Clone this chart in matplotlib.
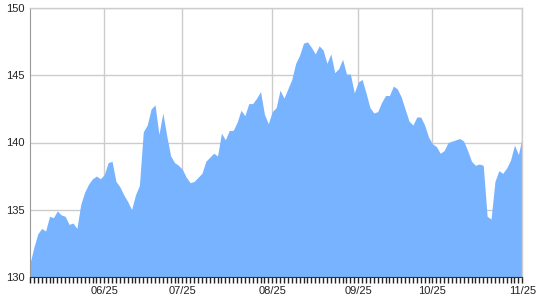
import matplotlib
matplotlib.use("Agg")
import matplotlib.pyplot as plt
import numpy as np

# Daily closing values (trading-day index)
values = [
    131.0, 132.2, 133.2, 133.6, 133.4, 134.5, 134.4, 134.9, 134.6, 134.5,
    133.9, 134.0, 133.6, 135.4, 136.3, 136.9, 137.3, 137.5, 137.3, 137.6,
    138.5, 138.6, 137.1, 136.7, 136.1, 135.6, 135.0, 136.1, 136.8, 140.8,
    141.3, 142.5, 142.8, 140.6, 142.2, 140.5, 139.0, 138.5, 138.3, 138.0,
    137.4, 137.0, 137.1, 137.4, 137.7, 138.6, 138.9, 139.2, 139.0, 140.7,
    140.2, 140.9, 140.9, 141.5, 142.4, 142.0, 142.9, 142.9, 143.3, 143.8,
    142.1, 141.4, 142.3, 142.6, 143.9, 143.3, 144.0, 144.7, 145.9, 146.5,
    147.4, 147.5, 147.1, 146.6, 147.2, 146.9, 145.9, 146.6, 145.2, 145.5,
    146.2, 145.1, 145.1, 143.7, 144.5, 144.7, 143.7, 142.6, 142.2, 142.3,
    143.0, 143.5, 143.5, 144.2, 144.0, 143.4, 142.5, 141.6, 141.3, 141.9,
    141.9, 141.3, 140.4, 139.9, 139.7, 139.2, 139.4, 140.0, 140.1, 140.2,
    140.3, 140.1, 139.4, 138.6, 138.3, 138.4, 138.3, 134.5, 134.3, 137.1,
    137.9, 137.7, 138.1, 138.7, 139.8, 139.1, 140.4,
]
month_labels = ["06/25", "07/25", "08/25", "09/25", "10/25", "11/25"]
month_index = [19, 39, 62, 84, 103, 126]
y_ticks = [130, 135, 140, 145, 150]

x = np.arange(len(values))

fig = plt.figure(figsize=(5.4, 3.0), dpi=100)
ax = fig.add_axes([30 / 540, 1 - 276.7 / 300, 492.3 / 540, 268.4 / 300])

ax.fill_between(x, values, 130, color="#77b3ff", linewidth=0, zorder=2)

ax.set_xlim(0, len(values) - 1)
ax.set_ylim(130, 150)
ax.set_yticks(y_ticks)
ax.set_yticklabels([str(v) for v in y_ticks])
ax.set_xticks(month_index)
ax.set_xticklabels(month_labels)
ax.set_xticks(x, minor=True)

ax.grid(True, which="major", color="#cccccc", linewidth=1, zorder=1)
ax.set_axisbelow(True)

for side in ["top", "right"]:
    ax.spines[side].set_color("#cccccc")
    ax.spines[side].set_linewidth(1)
ax.spines["left"].set_color("#999999")
ax.spines["bottom"].set_color("#333333")
for side in ax.spines:
    ax.spines[side].set_zorder(3)

ax.tick_params(axis="y", length=0, pad=4, labelsize=8, labelcolor="#222222")
ax.tick_params(axis="x", which="major", length=4, width=1, color="#222222",
               pad=3, labelsize=8, labelcolor="#222222")
ax.tick_params(axis="x", which="minor", length=4, width=1, color="#222222")

for lab in ax.get_xticklabels() + ax.get_yticklabels():
    lab.set_family("Liberation Sans")

fig.savefig("out.png", dpi=100)
